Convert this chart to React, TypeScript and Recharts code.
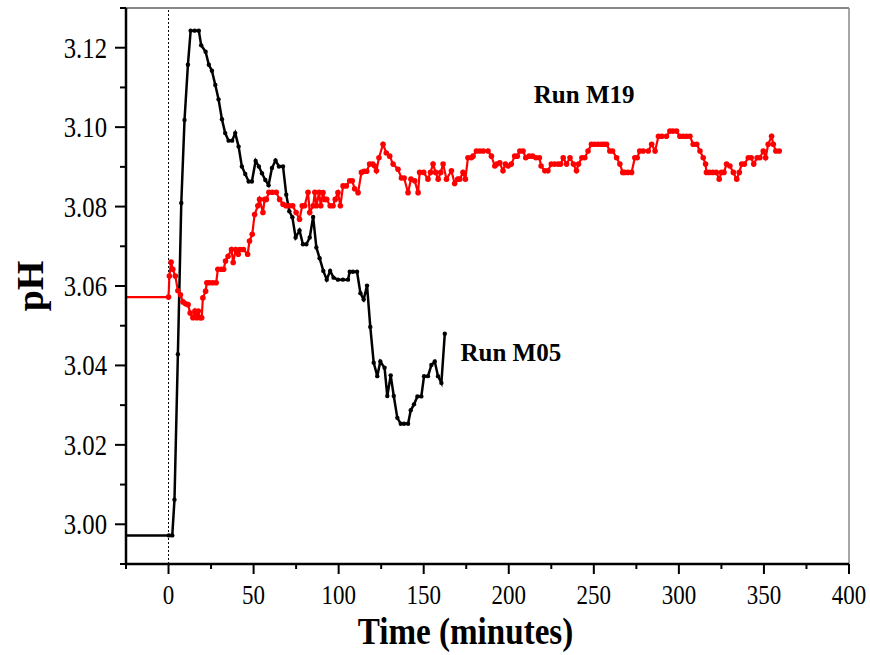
import React from "react";
import { LineChart, Line, XAxis, YAxis, ReferenceLine, ReferenceDot } from "recharts";

// Run M05 (black): [time (min), pH]
const m05Raw: [number, number][] = [
  [-25, 2.9972], [0.2, 2.9972], [2.2, 2.9972], [3.5, 3.0062], [5.5, 3.0428], [7.5, 3.0809],
  [9.4, 3.1018], [11.4, 3.1157], [13, 3.1243], [15.4, 3.1243], [17.8, 3.1243], [19.2, 3.1206],
  [21.8, 3.119], [23.7, 3.1157], [25.5, 3.1142], [27.5, 3.1106], [29.4, 3.107], [31.4, 3.102],
  [33.3, 3.0985], [35.3, 3.0966], [37.4, 3.0966], [39.2, 3.0985], [41.2, 3.0951], [43.1, 3.0901],
  [45.1, 3.0882], [47.1, 3.0863], [49, 3.0863], [51.2, 3.0915], [53.1, 3.0901], [54.9, 3.0884],
  [56.9, 3.0867], [58.8, 3.0854], [60.8, 3.0897], [62.9, 3.0916], [64.9, 3.0901], [67.3, 3.0901],
  [69.2, 3.083], [71, 3.0788], [72.8, 3.0773], [74.7, 3.0722], [77, 3.074], [79, 3.0705],
  [81, 3.0705], [83, 3.0722], [85, 3.0774], [86.9, 3.0697], [88.8, 3.067], [91, 3.0638],
  [93, 3.0616], [95, 3.0638], [97, 3.0621], [99.6, 3.0616], [102.5, 3.0616], [105.5, 3.0616],
  [106.5, 3.0636], [108.4, 3.0636], [110.8, 3.0636], [112.8, 3.0582], [114.7, 3.0566], [116.7, 3.0601],
  [118.6, 3.0497], [120.6, 3.0407], [122.7, 3.0373], [124.5, 3.041], [127, 3.0394], [128.6, 3.0323],
  [130.6, 3.0375], [132.4, 3.0323], [134.5, 3.0268], [136.5, 3.0253], [138.4, 3.0253], [140.8, 3.0253],
  [142.4, 3.0287], [144.3, 3.0302], [146.3, 3.0322], [148.6, 3.0322], [150.2, 3.0373], [152.5, 3.0373],
  [154.5, 3.0401], [156.5, 3.041], [158.4, 3.0373], [160.4, 3.0356], [162.4, 3.048],
];

// Run M19 (red): [time (min), pH]
const m19Raw: [number, number][] = [
  [-25, 3.0572], [0, 3.0572], [0.5, 3.0625], [1.5, 3.066], [2.5, 3.0642], [4, 3.0625], [5.5, 3.0588],
  [7, 3.0578], [8.5, 3.056], [10, 3.0555], [11.5, 3.0553], [12.7, 3.0532], [14.3, 3.052], [15.5, 3.0537],
  [16.5, 3.052], [17.5, 3.0537], [18.5, 3.052], [19.5, 3.052], [20.2, 3.057], [21.8, 3.0587], [22.5, 3.0608],
  [24, 3.0608], [26, 3.0608], [28, 3.0608], [29, 3.0642], [31, 3.0642], [32.4, 3.0642], [33.5, 3.0663],
  [35, 3.0675], [37, 3.0692], [38, 3.0659], [39.5, 3.0692], [41, 3.068], [42, 3.0692], [44, 3.0692],
  [46.5, 3.068], [47.6, 3.0713], [49.2, 3.073], [50.6, 3.078], [52.5, 3.0802], [53.5, 3.0818], [55.5, 3.0785],
  [56.5, 3.0818], [57.5, 3.0818], [59, 3.0836], [61, 3.0836], [63.3, 3.0836], [65.3, 3.0818], [67.3, 3.0806],
  [69, 3.0802], [71, 3.0802], [73, 3.0802], [75, 3.0785], [77, 3.0768], [78.6, 3.0802], [80, 3.0802],
  [82, 3.0836], [83, 3.0785], [85, 3.0802], [86, 3.0836], [87, 3.0802], [88.5, 3.0836], [89.5, 3.0802],
  [90.8, 3.0835], [91.8, 3.0818], [93, 3.0818], [95, 3.0802], [96.7, 3.0802], [98, 3.0818], [99.6, 3.0835],
  [101, 3.0802], [102.6, 3.0852], [104.5, 3.0852], [106.5, 3.0865], [108, 3.0865], [109.4, 3.0845],
  [111.4, 3.0835], [113.4, 3.0886], [115, 3.0889], [116.5, 3.0889], [118.2, 3.0907], [120, 3.0907],
  [121.2, 3.0902], [122.2, 3.089], [123.7, 3.0923], [126.1, 3.0957], [128, 3.0935], [130, 3.0927],
  [132, 3.0907], [134.9, 3.0894], [136.9, 3.0872], [138.5, 3.0872], [140.8, 3.0835], [142.5, 3.0869],
  [144.7, 3.0865], [146.7, 3.0835], [147.6, 3.0886], [150, 3.0886], [152.5, 3.0869], [154, 3.0886],
  [155.5, 3.0907], [157, 3.0886], [158.5, 3.0869], [160, 3.0886], [161.4, 3.0907], [163.4, 3.0869],
  [166.3, 3.089], [168.2, 3.0858], [170, 3.0869], [171.2, 3.0869], [173.1, 3.0886], [174.5, 3.0869],
  [176, 3.0923], [178, 3.0923], [179, 3.0927], [181, 3.094], [183, 3.094], [185, 3.094], [187.8, 3.094],
  [189.8, 3.0927], [191.8, 3.0902], [193, 3.0907], [194.7, 3.091], [196.6, 3.089], [198, 3.0907],
  [199.6, 3.0902], [201.5, 3.0907], [203.5, 3.0927], [205, 3.0927], [206.5, 3.094], [208.4, 3.094],
  [210, 3.0923], [212, 3.0927], [214, 3.0927], [216, 3.0923], [218, 3.0923], [219, 3.0902], [221.2, 3.089],
  [223, 3.089], [225, 3.0907], [227, 3.0907], [229, 3.0907], [230.5, 3.0907], [232, 3.0923], [234, 3.0907],
  [236, 3.0923], [238, 3.0907], [239.8, 3.089], [241, 3.0907], [243, 3.0923], [244.7, 3.0923], [246.6, 3.094],
  [248.6, 3.0957], [250.5, 3.0957], [252.5, 3.0957], [254.5, 3.0957], [256, 3.0957], [257.5, 3.0957],
  [259.4, 3.094], [261, 3.094], [263.4, 3.0923], [265.3, 3.0907], [267, 3.0886], [268.2, 3.0886],
  [270, 3.0886], [272.2, 3.0886], [274.1, 3.0923], [275.5, 3.0923], [277, 3.094], [279, 3.094], [282, 3.094],
  [284, 3.0957], [286, 3.094], [288, 3.0977], [290, 3.0977], [292.7, 3.0977], [294.7, 3.099], [296.5, 3.099],
  [298.6, 3.099], [300.6, 3.0977], [302.5, 3.0977], [304.5, 3.0977], [306.5, 3.0977], [308.4, 3.0957],
  [310.5, 3.0957], [312.4, 3.094], [314.3, 3.0923], [315.7, 3.0907], [316.2, 3.0886], [318, 3.0886],
  [320, 3.0886], [322, 3.0886], [323.7, 3.0869], [325, 3.0886], [326.5, 3.0886], [328, 3.0907], [330, 3.0902],
  [332, 3.0886], [334, 3.0869], [335.5, 3.0886], [336.9, 3.0907], [338.5, 3.0907], [340.8, 3.0923],
  [342.5, 3.0923], [344, 3.0907], [346, 3.0923], [347.6, 3.0923], [349.6, 3.094], [351, 3.0923],
  [352.5, 3.0957], [354.5, 3.0977], [355.5, 3.0957], [357, 3.094], [359, 3.094],
];

const xTicks = [-25, 0, 25, 50, 75, 100, 125, 150, 175, 200, 225, 250, 275, 300, 325, 350, 375, 400];
const yTicks = [2.99, 3.0, 3.01, 3.02, 3.03, 3.04, 3.05, 3.06, 3.07, 3.08, 3.09, 3.1, 3.11, 3.12, 3.13];
const xDomain: [number, number] = [-25, 400];
const yDomain: [number, number] = [2.99, 3.13];

const seriesLabels = [
  { name: "Run M19", t: 214.7, pH: 3.1062 },
  { name: "Run M05", t: 171.6, pH: 3.0411 },
];

const m05 = m05Raw.map(([t, pH]) => ({ t, pH }));
const m19 = m19Raw.map(([t, pH]) => ({ t, pH }));

const FONT = '"Liberation Serif", "Times New Roman", serif';

const XTick = (props: any) => {
  const { x, y, payload } = props;
  const v = payload.value;
  const major = v % 50 === 0;
  return (
    <g>
      <line x1={x} x2={x} y1={y} y2={y + (major ? 10 : 5)} stroke="#000" strokeWidth={2} />
      {major && v >= 0 ? (
        <text
          x={0}
          y={0}
          transform={`translate(${x} ${y + 40}) scale(0.92 1.08)`}
          textAnchor="middle"
          fontFamily={FONT}
          fontSize={25}
          fill="#000"
        >
          {v}
        </text>
      ) : null}
    </g>
  );
};

const YTick = (props: any) => {
  const { x, y, payload } = props;
  const v = payload.value;
  const major = Math.round(v * 100) % 2 === 0;
  return (
    <g>
      <line x1={x - (major ? 11 : 6)} x2={x} y1={y} y2={y} stroke="#000" strokeWidth={2} />
      {major ? (
        <text
          x={0}
          y={0}
          transform={`translate(${x - 19} ${y + 10}) scale(0.95 1.1)`}
          textAnchor="end"
          fontFamily={FONT}
          fontSize={26}
          fill="#000"
        >
          {v.toFixed(2)}
        </text>
      ) : null}
    </g>
  );
};

const makeDot = (color: string, r: number) => (props: any) => {
  const { cx, cy, payload, index } = props;
  if (payload.t < 0 || cx == null) return <g key={`d${index}`} />;
  return <circle key={`d${index}`} cx={cx} cy={cy} r={r} fill={color} stroke="none" />;
};

export default function App() {
  return (
    <div style={{ position: "absolute", left: 0, top: 0, background: "#fff" }}>
      <LineChart width={870} height={655} margin={{ top: 8, right: 21, left: 0, bottom: 0 }}>
        <XAxis
          type="number"
          dataKey="t"
          domain={xDomain}
          ticks={xTicks}
          interval={0}
          allowDataOverflow
          height={91}
          tickLine={false}
          tickSize={0}
          tickMargin={0}
          axisLine={{ stroke: "#000", strokeWidth: 2.5 }}
          tick={<XTick />}
          label={{
            content: (p: any) => {
              const vb = p.viewBox || {};
              const cx = vb.x + vb.width / 2 - 22;
              const cy = vb.y + 80;
              return (
                <text
                  x={0}
                  y={0}
                  transform={`translate(${cx} ${cy}) scale(0.92 1.08)`}
                  textAnchor="middle"
                  fontFamily={FONT}
                  fontWeight="bold"
                  fontSize={36}
                  fill="#000"
                >
                  Time (minutes)
                </text>
              );
            },
          }}
        />
        <YAxis
          type="number"
          dataKey="pH"
          domain={yDomain}
          ticks={yTicks}
          interval={0}
          allowDataOverflow
          width={126}
          tickLine={false}
          tickSize={0}
          tickMargin={0}
          axisLine={{ stroke: "#000", strokeWidth: 2.5 }}
          tick={<YTick />}
          label={{
            content: (p: any) => {
              const vb = p.viewBox || {};
              const cx = vb.x + 30;
              const cy = vb.y + vb.height / 2;
              return (
                <text
                  x={cx}
                  y={cy}
                  transform={`rotate(-90 ${cx} ${cy})`}
                  textAnchor="middle"
                  dominantBaseline="central"
                  fontFamily={FONT}
                  fontWeight="bold"
                  fontSize={38}
                  fill="#000"
                >
                  pH
                </text>
              );
            },
          }}
        />
        <ReferenceLine y={3.13} stroke="#888" strokeWidth={2} />
        <ReferenceLine x={400} stroke="#888" strokeWidth={1.5} />
        <ReferenceLine x={0} stroke="#000" strokeWidth={1} strokeDasharray="2 2" />
        <Line
          data={m19}
          dataKey="pH"
          type="linear"
          stroke="#ff0000"
          strokeWidth={2.2}
          dot={makeDot("#ff0000", 2.8)}
          activeDot={false}
          isAnimationActive={false}
        />
        <Line
          data={m05}
          dataKey="pH"
          type="linear"
          stroke="#000"
          strokeWidth={2.5}
          dot={makeDot("#000", 2.2)}
          activeDot={false}
          isAnimationActive={false}
        />
        {seriesLabels.map((s) => (
          <ReferenceDot
            key={s.name}
            x={s.t}
            y={s.pH}
            r={0}
            shape={(p: any) => (
              <text x={p.cx} y={p.cy} fontFamily={FONT} fontWeight="bold" fontSize={25} fill="#000">
                {s.name}
              </text>
            )}
          />
        ))}
      </LineChart>
    </div>
  );
}
